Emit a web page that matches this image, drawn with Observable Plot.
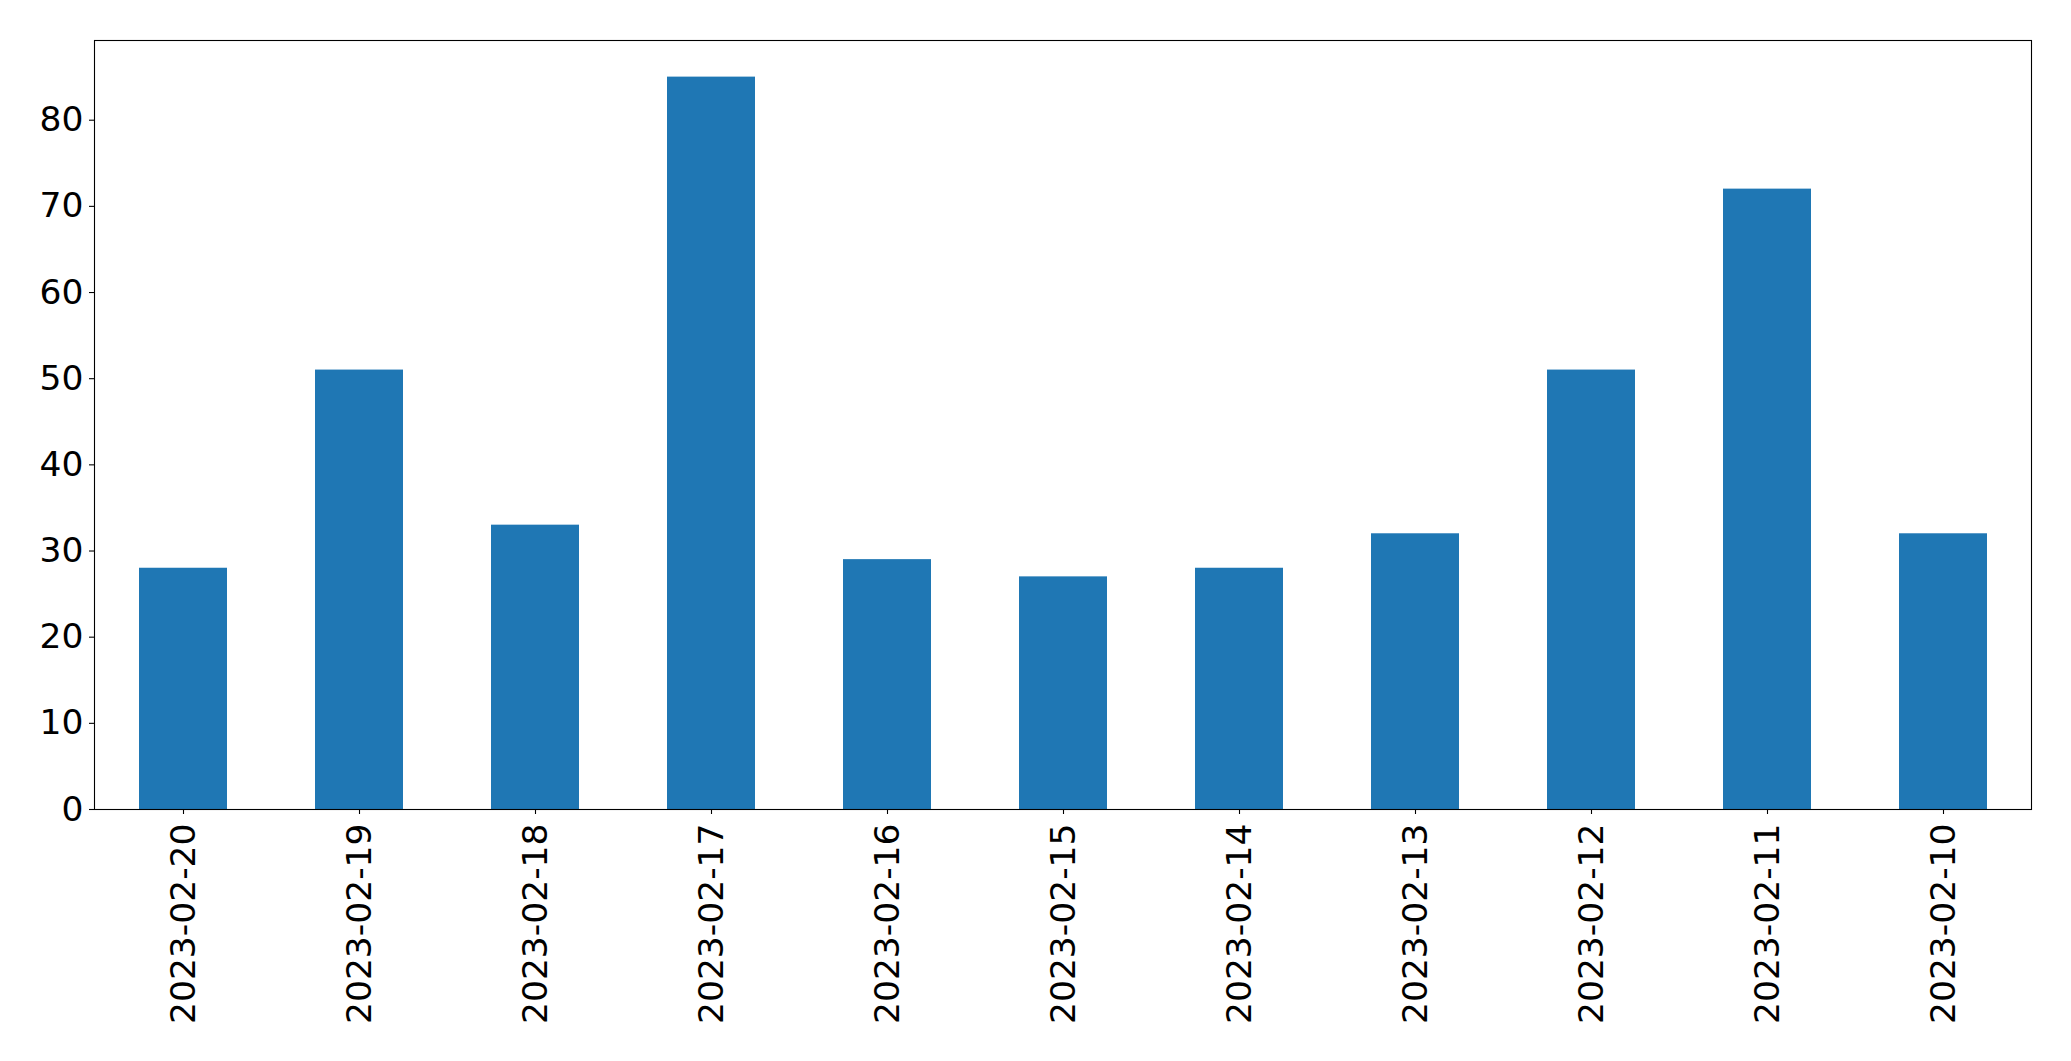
<!DOCTYPE html>
<html>
<head>
<meta charset="utf-8">
<script src="https://cdn.jsdelivr.net/npm/d3@7"></script>
<script src="https://cdn.jsdelivr.net/npm/@observablehq/plot@0.6"></script>
<style>
  html, body { margin: 0; padding: 0; background: #fff; overflow: hidden; }
  #chart svg { display: block; }
</style>
</head>
<body>
<div id="chart"></div>
<script>
const dates = ["2023-02-20", "2023-02-19", "2023-02-18", "2023-02-17", "2023-02-16", "2023-02-15", "2023-02-14", "2023-02-13", "2023-02-12", "2023-02-11", "2023-02-10"];
const counts = [28, 51, 33, 85, 29, 27, 28, 32, 51, 72, 32];
const yTicks = [0, 10, 20, 30, 40, 50, 60, 70, 80];

const data = dates.map((d, i) => ({date: d, count: counts[i]}));

const chart = Plot.plot({
  width: 2071,
  height: 1061,
  marginLeft: 94,
  marginRight: 40,
  marginTop: 40,
  marginBottom: 252,
  style: {fontFamily: "DejaVu Sans", background: "#fff", color: "#000"},
  x: {type: "band", domain: dates, paddingInner: 0.5, paddingOuter: 0.25, label: null},
  y: {domain: [0, 89.25], label: null},
  marks: [
    Plot.barY(data, {x: "date", y: "count", fill: "#1f77b4"}),
    Plot.frame({stroke: "#000", strokeWidth: 1.1}),
    Plot.axisY({ticks: yTicks, tickSize: 5, tickPadding: 6, fontSize: 34.5, label: null, stroke: "#000", strokeWidth: 1.1}),
    Plot.axisX({tickSize: 5, tickPadding: 9, tickRotate: -90, fontSize: 34.5, label: null, stroke: "#000", strokeWidth: 1.1})
  ]
});
document.getElementById("chart").appendChild(chart);
</script>
</body>
</html>
